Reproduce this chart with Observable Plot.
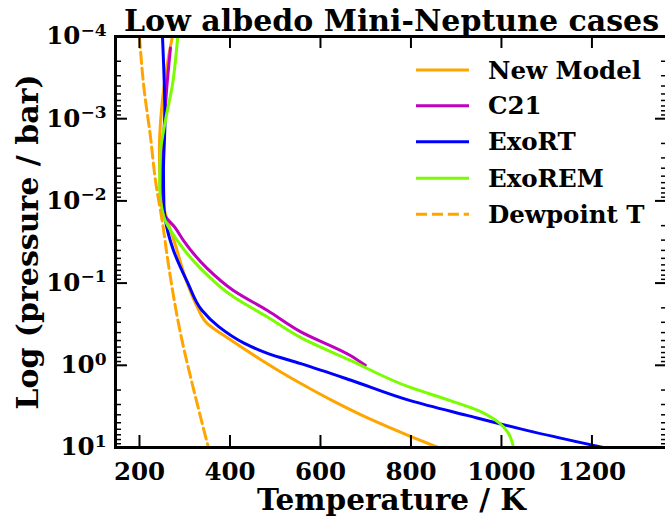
<!DOCTYPE html>
<html><head><meta charset="utf-8">
<script src="https://cdn.jsdelivr.net/npm/d3@7"></script>
<script src="https://cdn.jsdelivr.net/npm/@observablehq/plot@0.6"></script>
<style>
html,body{margin:0;padding:0;background:#fff;overflow:hidden;width:665px;height:518px}
#wrap{position:relative;width:665px;height:518px;overflow:hidden}
#wrap svg{max-width:none !important}
#legend{position:absolute;left:0;top:0}
</style></head><body><div id="wrap"></div><script>
// ---- data ----
const seriesNames = ["New Model","C21","ExoRT","ExoREM","Dewpoint T"];
const seriesColors = ["#FFA500","#BF00BF","#0000FF","#7CFC00","#FFA500"];

const newModelT = [272.9,264,250.8,244,246,257,279.5,305.4,326,349.5,401,456.2,511.4,555.6,628.5,703,798.6,860];
const newModelP = [1e-4,1.78e-4,5.9e-4,2.4e-3,7.4e-3,1.41e-2,3.47e-2,0.1,0.186,0.309,0.489,0.776,1.197,1.656,2.73,4.34,7.31,10];

const c21T = [268.5,259.9,253,248.6,253,279.5,297,349.5,407.6,482,555.6,666,699];
const c21P = [1.38e-4,4.47e-4,1.82e-3,5.62e-3,1.38e-2,2.14e-2,3.02e-2,6.61e-2,0.123,0.214,0.389,0.759,1.0];

const exoRTT = [250.8,256.3,253,254,259.6,275,307,338,375,431,483,556.5,666,798.6,924,1070,1225];
const exoRTP = [1e-4,1.05e-3,4.27e-3,1.12e-2,2.0e-2,3.98e-2,0.1,0.214,0.339,0.537,0.716,0.955,1.51,2.69,4.07,6.46,10];

const exoREMT = [284.6,272.2,257.4,246.4,244.8,253.7,283.3,334.7,408.3,482,555.6,666,798.6,887,953,982.6,1004.7,1026.8];
const exoREMP = [1e-4,4.07e-4,1.05e-3,2.63e-3,6.76e-3,1.55e-2,3.02e-2,6.61e-2,0.148,0.257,0.457,0.871,1.86,2.69,3.63,4.47,5.62,10];

const dewT = [200,209.5,224.3,235.3,250.1,264.7,290.6,316.4,352.4];
const dewP = [1e-4,4.07e-4,1.66e-3,5.62e-3,1.74e-2,6.31e-2,0.407,1.66,10];

const xTicks = [200,400,600,800,1000,1200];
const yMajor = [1e-4,1e-3,1e-2,1e-1,1,10];
const yExponents = ["-4","-3","-2","-1","0","1"];
const yMinor = [];
for (let k = -4; k < 1; k++) for (let m = 2; m < 10; m++) yMinor.push(m * Math.pow(10, k));

const title = "Low albedo Mini-Neptune cases";
const xLabel = "Temperature / K";
const yLabel = "Log (pressure / bar)";

// ---- build tables ----
const toRows = (T, P, name) => T.map((t, i) => ({T: t, P: P[i], name}));
const rows = [
  toRows(newModelT, newModelP, seriesNames[0]),
  toRows(c21T, c21P, seriesNames[1]),
  toRows(exoRTT, exoRTP, seriesNames[2]),
  toRows(exoREMT, exoREMP, seriesNames[3])
];
const dewRows = toRows(dewT, dewP, seriesNames[4]);

const W = 672, Hh = 518, mT = 36, mB = 71, mL = 115, mR = 5;
const FW = W - mL - mR, FH = Hh - mT - mB;
const font = "DejaVu Serif";

const lineMarks = rows.map((r, i) => Plot.line(r, {x: "T", y: "P", stroke: seriesColors[i], strokeWidth: 3, curve: "monotone-y", clip: true}));

const chart = Plot.plot({
  width: W, height: Hh, marginTop: mT, marginBottom: mB, marginLeft: mL, marginRight: mR,
  x: {domain: [147, 1367], axis: null},
  y: {type: "log", domain: [1e-4, 10], reverse: true, axis: null},
  style: {fontFamily: font, fontWeight: "bold", background: "white", overflow: "visible", maxWidth: "none"},
  marks: [
    ...lineMarks,
    Plot.line(dewRows, {x: "T", y: "P", stroke: seriesColors[4], strokeWidth: 3, strokeDasharray: "11.1,4.8", curve: "monotone-y", clip: true}),
    // ticks (inward, mirrored)
    Plot.ruleX(xTicks, {x: d => d, insetTop: FH - 12, stroke: "black", strokeWidth: 2}),
    Plot.ruleX(xTicks, {x: d => d, insetBottom: FH - 12, stroke: "black", strokeWidth: 2}),
    Plot.ruleY(yMajor, {y: d => d, insetRight: FW - 12, stroke: "black", strokeWidth: 2}),
    Plot.ruleY(yMajor, {y: d => d, insetLeft: FW - 12, stroke: "black", strokeWidth: 2}),
    Plot.ruleY(yMinor, {y: d => d, insetRight: FW - 6, stroke: "black", strokeWidth: 1.5}),
    Plot.ruleY(yMinor, {y: d => d, insetLeft: FW - 6, stroke: "black", strokeWidth: 1.5}),
    Plot.frame({stroke: "black", strokeWidth: 3}),
    // tick labels
    Plot.text(xTicks, {x: d => d, frameAnchor: "bottom", lineAnchor: "middle", dy: 24.5, text: d => String(d), fontSize: 24.5, fontWeight: "bold", fill: "black"}),
    Plot.text(yMajor, {y: d => d, frameAnchor: "left", lineAnchor: "middle", dx: -9, textAnchor: "end", text: (d, i) => "10^" + yExponents[i], fontSize: 24.5, fontWeight: "bold", fill: "black"}),
    // titles
    Plot.text([title], {frameAnchor: "top", lineAnchor: "middle", dy: -15.6, textAnchor: "middle", text: d => d, fontSize: 30, fontWeight: "bold", fill: "black"}),
    Plot.text([xLabel], {frameAnchor: "bottom", lineAnchor: "middle", dy: 53, textAnchor: "middle", text: d => d, fontSize: 29.5, fontWeight: "bold", fill: "black"}),
    Plot.text([yLabel], {frameAnchor: "left", lineAnchor: "middle", dx: -87.6, rotate: -90, textAnchor: "middle", text: d => d, fontSize: 30, fontWeight: "bold", fill: "black"})
  ]
});
chart.style.maxWidth = "none";

// superscript exponents
d3.select(chart).selectAll("text").each(function() {
  const t = this.textContent;
  if (!t.startsWith("10^")) return;
  const e = t.slice(3).replace("-", "\u2212");
  const s = d3.select(this);
  s.text(null);
  s.append("tspan").text("10");
  s.append("tspan").attr("dy", "-0.5em").attr("font-size", "17px").text(e);
});

const wrap = document.getElementById("wrap");
wrap.appendChild(chart);

// legend
const leg = d3.select(wrap).append("svg").attr("id", "legend").attr("width", 665).attr("height", 260)
  .style("font-family", font).style("font-weight", "bold");
const legY = [70, 105.8, 141.8, 178.2, 214.3];
seriesNames.forEach((n, i) => {
  const g = leg.append("g").attr("transform", `translate(0,${legY[i]})`);
  g.append("line").attr("x1", 416).attr("x2", 469).attr("y1", 0).attr("y2", 0)
    .attr("stroke", seriesColors[i]).attr("stroke-width", 3)
    .attr("stroke-dasharray", i === 4 ? "11.1,4.8" : null);
  g.append("text").attr("x", 488).attr("dy", "0.35em").attr("font-size", 24.5).text(n);
});
</script></body></html>
